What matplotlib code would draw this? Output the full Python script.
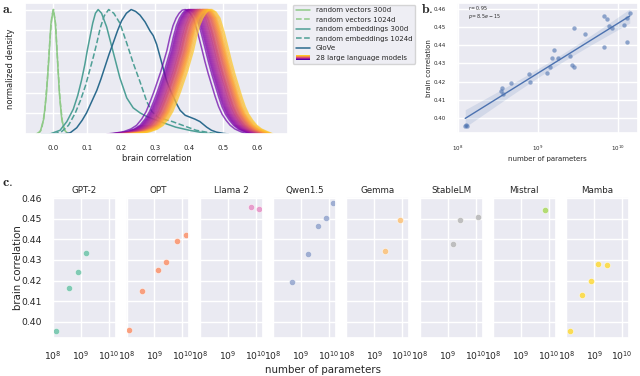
import numpy as np
import matplotlib
matplotlib.use("Agg")
import matplotlib.pyplot as plt
import seaborn as sns
from matplotlib.legend_handler import HandlerBase
from matplotlib.patches import Rectangle
from matplotlib.lines import Line2D

# ---------------- panel a: normalized density curves
rv300_x = [-0.05, -0.038, -0.028, -0.02, -0.013, -0.007, 0.0, 0.006, 0.012, 0.018, 0.025, 0.033, 0.045]
rv300_y = [0.0, 0.02, 0.12, 0.32, 0.6, 0.88, 1.0, 0.9, 0.62, 0.33, 0.12, 0.03, 0.0]

rv1024_x = [-0.045, -0.034, -0.025, -0.017, -0.01, -0.004, 0.001, 0.007, 0.013, 0.02, 0.028, 0.04]
rv1024_y = [0.0, 0.04, 0.18, 0.45, 0.75, 0.95, 1.0, 0.88, 0.58, 0.27, 0.07, 0.0]

re300_x = [-0.01, 0.02, 0.04, 0.059, 0.072, 0.083, 0.093, 0.1, 0.108, 0.116, 0.124, 0.132,
           0.142, 0.157, 0.176, 0.196, 0.216, 0.235, 0.255, 0.275, 0.304, 0.334, 0.36, 0.40, 0.44, 0.47]
re300_y = [0.0, 0.03, 0.1, 0.2, 0.31, 0.43, 0.56, 0.67, 0.78, 0.89, 0.97, 1.0,
           0.97, 0.86, 0.66, 0.45, 0.29, 0.21, 0.17, 0.14, 0.11, 0.08, 0.055, 0.03, 0.01, 0.0]

re1024_x = [0.0, 0.025, 0.045, 0.065, 0.08, 0.095, 0.107, 0.118, 0.128, 0.138, 0.15, 0.163, 0.178,
            0.196, 0.216, 0.235, 0.255, 0.275, 0.29, 0.31, 0.33, 0.35, 0.38, 0.42, 0.46, 0.49]
re1024_y = [0.0, 0.02, 0.07, 0.17, 0.27, 0.39, 0.51, 0.62, 0.73, 0.85, 0.95, 1.0, 0.97,
            0.89, 0.73, 0.57, 0.42, 0.26, 0.18, 0.13, 0.115, 0.1, 0.07, 0.03, 0.01, 0.0]

glove_x = [-0.035, 0.0, 0.03, 0.05, 0.069, 0.085, 0.098, 0.113, 0.128, 0.14, 0.152, 0.164, 0.176,
           0.189, 0.201, 0.215, 0.229, 0.242, 0.255, 0.27, 0.284, 0.294, 0.304, 0.314, 0.324, 0.333,
           0.343, 0.353, 0.363, 0.373, 0.388, 0.402, 0.416, 0.431, 0.451, 0.465, 0.48, 0.5, 0.515]
glove_y = [0.0, 0.0, 0.0, 0.01, 0.05, 0.11, 0.17, 0.26, 0.35, 0.44, 0.54, 0.64, 0.73,
           0.83, 0.91, 0.97, 1.0, 0.985, 0.955, 0.9, 0.83, 0.79, 0.72, 0.62, 0.52, 0.43,
           0.36, 0.30, 0.24, 0.19, 0.15, 0.135, 0.12, 0.10, 0.055, 0.03, 0.015, 0.005, 0.0]

# shape of a language-model curve around its peak (offset from peak, height)
llm_offsets = [-0.23, -0.2, -0.18, -0.16, -0.143, -0.128, -0.115, -0.103, -0.092, -0.082, -0.072,
               -0.063, -0.054, -0.045, -0.036, -0.027, -0.018, -0.009, 0.0, 0.012, 0.024, 0.036,
               0.049, 0.058, 0.068, 0.078, 0.088, 0.098, 0.108, 0.12, 0.132, 0.146, 0.162, 0.18]
llm_heights = [0.0, 0.01, 0.02, 0.04, 0.07, 0.12, 0.18, 0.26, 0.34, 0.42, 0.50,
               0.585, 0.67, 0.78, 0.87, 0.93, 0.97, 0.995, 1.0, 0.98, 0.93, 0.82,
               0.68, 0.58, 0.48, 0.39, 0.30, 0.22, 0.16, 0.11, 0.07, 0.04, 0.02, 0.0]
llm_peaks = [0.388, 0.398, 0.402, 0.405, 0.408, 0.411, 0.414, 0.417, 0.42, 0.423, 0.425, 0.428,
             0.43, 0.432, 0.434, 0.437, 0.439, 0.441, 0.443, 0.445, 0.447, 0.449, 0.451, 0.453,
             0.455, 0.458, 0.462, 0.466]

curve_labels = ["random vectors 300d", "random vectors 1024d", "random embeddings 300d",
                "random embeddings 1024d", "GloVe", "28 large language models"]

# ---------------- panels b, c: parameter counts and brain correlations
gpt2_params = [1.24e8, 3.55e8, 7.74e8, 1.5e9]
gpt2_corr = [0.3955, 0.4166, 0.4243, 0.4332]
opt_params = [1.25e8, 3.5e8, 1.3e9, 2.7e9, 6.7e9, 1.3e10]
opt_corr = [0.3962, 0.4150, 0.4249, 0.4291, 0.4390, 0.4419]
llama_params = [6.7e9, 1.3e10]
llama_corr = [0.4558, 0.4547]
qwen_params = [4.6e8, 1.8e9, 3.9e9, 7.7e9, 1.4e10]
qwen_corr = [0.4192, 0.4329, 0.4463, 0.4505, 0.4576]
gemma_params = [2.5e9, 8.5e9]
gemma_corr = [0.4343, 0.4492]
stablelm_params = [1.6e9, 2.8e9, 1.2e10]
stablelm_corr = [0.4376, 0.4496, 0.4510]
mistral_params = [7.2e9]
mistral_corr = [0.4542]
mamba_params = [1.3e8, 3.7e8, 7.9e8, 1.4e9, 2.8e9]
mamba_corr = [0.3957, 0.4132, 0.4197, 0.4280, 0.4278]

family_names = ["GPT-2", "OPT", "Llama 2", "Qwen1.5", "Gemma", "StableLM", "Mistral", "Mamba"]
family_colors = ["#66c2a5", "#fc8d62", "#e78ac3", "#8da0cb", "#fdbf6f", "#b3b3b3", "#a6d854", "#ffd92f"]
family_params = [gpt2_params, opt_params, llama_params, qwen_params, gemma_params,
                 stablelm_params, mistral_params, mamba_params]
family_corr = [gpt2_corr, opt_corr, llama_corr, qwen_corr, gemma_corr,
               stablelm_corr, mistral_corr, mamba_corr]

corr_ticks = [0.40, 0.41, 0.42, 0.43, 0.44, 0.45, 0.46]
stat_r = r"$r = 0.95$"
stat_p = r"$p = 8.5e-15$"

# ---------------- style
sns.set_theme(style="darkgrid")
plt.rcParams['font.family'] = ['DejaVu Sans']

W, H = 640, 376
fig = plt.figure(figsize=(6.4, 3.76), dpi=100)


def px_axes(l, t, r, b):
    return fig.add_axes([l / W, 1 - b / H, (r - l) / W, (b - t) / H])


# ================= panel a
axa = px_axes(25, 3.3, 288, 134)
c_rv = "#8fca88"
c_re = "#4e9f96"
c_gl = "#2c6b8e"
axa.plot(rv300_x, rv300_y, color=c_rv, lw=1.1)
axa.plot(rv1024_x, rv1024_y, color=c_rv, lw=1.1, ls="--")
axa.plot(re300_x, re300_y, color=c_re, lw=1.1)
axa.plot(re1024_x, re1024_y, color=c_re, lw=1.1, ls="--")
axa.plot(glove_x, glove_y, color=c_gl, lw=1.1)
cmap = plt.get_cmap("plasma")
llm_cols = [cmap(v) for v in np.linspace(0.2, 0.88, len(llm_peaks))]
offs = np.array(llm_offsets)
for pk, col in zip(llm_peaks, llm_cols):
    axa.plot(pk + offs, llm_heights, color=col, lw=1.1, alpha=0.7)
axa.set_xlim(-0.083, 0.69)
axa.set_ylim(0, 1.05)
axa.set_yticks(np.linspace(0, 1, 7))
axa.set_yticklabels([])
axa.set_xticks([0.0, 0.1, 0.2, 0.3, 0.4, 0.5, 0.6])
axa.tick_params(labelsize=5, pad=2)
axa.set_xlabel("brain correlation", fontsize=6, labelpad=2)
axa.set_ylabel("normalized density", fontsize=6)
axa.yaxis.set_label_coords(-(25 - 15) / 263, 0.5)


class GradHandler(HandlerBase):
    def create_artists(self, legend, orig_handle, xdescent, ydescent, width, height, fontsize, trans):
        cols = orig_handle.stripe_colors
        n = len(cols)
        arts = []
        for i, c in enumerate(cols):
            r = Rectangle((-xdescent, -ydescent + height * i / n), width, height / n,
                          facecolor=c, edgecolor="none", transform=trans)
            arts.append(r)
        return arts


grad_proxy = Rectangle((0, 0), 1, 1)
grad_proxy.stripe_colors = [cmap(v) for v in [0.15, 0.35, 0.55, 0.72, 0.88]]
handles = [Line2D([], [], color=c_rv, lw=1.1), Line2D([], [], color=c_rv, lw=1.1, ls="--"),
           Line2D([], [], color=c_re, lw=1.1), Line2D([], [], color=c_re, lw=1.1, ls="--"),
           Line2D([], [], color=c_gl, lw=1.1), grad_proxy]
axa.legend(handles, curve_labels, loc="upper left", bbox_to_anchor=(1.019, 0.99),
           borderaxespad=0, fontsize=5, handler_map={grad_proxy: GradHandler()},
           handlelength=2.1, labelspacing=0.5)

# ================= panel b
axb = px_axes(457, 3, 638, 133)
all_params = np.concatenate([np.array(p, float) for p in family_params])
all_corr = np.concatenate([np.array(c, float) for c in family_corr])
lx = np.log10(all_params)
slope, intercept = np.polyfit(lx, all_corr, 1)
xs = np.linspace(lx.min(), lx.max(), 100)
fit = intercept + slope * xs
n = len(lx)
resid = all_corr - (intercept + slope * lx)
s = np.sqrt(np.sum(resid ** 2) / (n - 2))
se = s * np.sqrt(1 / n + (xs - lx.mean()) ** 2 / np.sum((lx - lx.mean()) ** 2))
axb.fill_between(10 ** xs, fit - 2.05 * se, fit + 2.05 * se, color="#4c72b0", alpha=0.15, lw=0)
axb.plot(10 ** xs, fit, color="#4c72b0", lw=1.0)
axb.scatter(all_params, all_corr, s=10, color="#4c72b0", alpha=0.6, lw=0)
axb.set_xscale("log")
axb.set_yticks(corr_ticks)
axb.tick_params(labelsize=4, pad=2)
axb.set_xlabel("number of parameters", fontsize=5, labelpad=2)
axb.set_ylabel("brain correlation", fontsize=5, labelpad=1.5)
axb.text(0.06, 0.962, stat_r, transform=axb.transAxes, fontsize=3.4, va="center")
axb.text(0.06, 0.9, stat_p, transform=axb.transAxes, fontsize=3.4, va="center")

# ================= panel c
axes_c = []
for i, (name, col, pr, cr) in enumerate(zip(family_names, family_colors, family_params, family_corr)):
    left = 53 + i * 73.3
    ax = px_axes(left, 197, left + 63, 338)
    if axes_c:
        ax.sharex(axes_c[0])
        ax.sharey(axes_c[0])
    axes_c.append(ax)
    ax.set_xscale("log")
    ax.scatter(pr, cr, s=20, color=col, alpha=0.8, edgecolor="white", linewidth=0.4)
    ax.set_title(name, fontsize=6.3, pad=3)
    ax.tick_params(labelsize=6.7, pad=2)
    if i > 0:
        ax.tick_params(labelleft=False)
axes_c[0].set_xlim(10 ** 7.99, 10 ** 10.25)
axes_c[0].set_yticks(corr_ticks)
axes_c[0].set_ylim(0.3922, 0.4605)

fig.text(18 / W, 1 - 267.5 / H, "brain correlation", rotation=90, fontsize=7.4, ha="center", va="center")
fig.text(323 / W, 1 - 370 / H, "number of parameters", fontsize=7.4, ha="center", va="center")

# panel labels
for lab, x, y in [("a.", 2, 13), ("b.", 421, 13), ("c.", 2, 186)]:
    fig.text(x / W, 1 - y / H, r"$\mathbf{%s}$" % lab, fontsize=10, math_fontfamily="cm",
             ha="left", va="baseline")

fig.savefig("out.png", dpi=100)
